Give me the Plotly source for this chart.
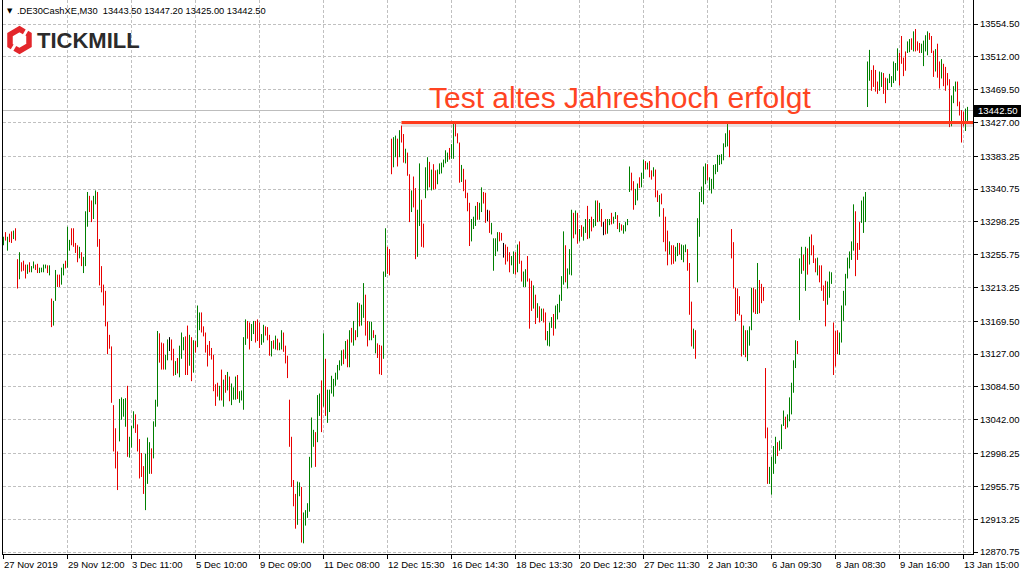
import plotly.graph_objects as go

# ---------------- data ----------------
high = [
13279, 13285, 13279, 13283, 13286, 13287, 13290, 13250, 13259, 13246,
13248, 13243, 13243, 13246, 13241, 13247, 13243, 13244, 13239, 13239,
13243, 13243, 13242, 13242, 13199, 13196, 13236, 13230, 13230, 13239,
13244, 13248, 13292, 13275, 13290, 13290, 13271, 13268, 13266, 13259,
13253, 13312, 13337, 13332, 13326, 13332, 13339, 13337, 13276, 13241,
13217, 13209, 13169, 13152, 13137, 13061, 13031, 13001, 13069, 13071,
13069, 13070, 13086, 13020, 13034, 13053, 13049, 13036, 13017, 12999,
12982, 12998, 13019, 13013, 13005, 13040, 13068, 13157, 13154, 13142,
13141, 13126, 13146, 13149, 13146, 13134, 13118, 13122, 13138, 13155,
13149, 13150, 13164, 13152, 13149, 13145, 13144, 13190, 13181, 13181,
13163, 13155, 13139, 13144, 13135, 13126, 13088, 13090, 13086, 13107,
13094, 13100, 13104, 13098, 13089, 13084, 13098, 13100, 13079, 13080,
13149, 13172, 13170, 13168, 13166, 13170, 13170, 13172, 13168, 13153,
13165, 13163, 13162, 13152, 13144, 13145, 13151, 13147, 13142, 13158,
13155, 13138, 13125, 13068, 13020, 12964, 12946, 12962, 12961, 12955,
12922, 12925, 12934, 12994, 13045, 13029, 13026, 13074, 13076, 13093,
13154, 13121, 13081, 13081, 13099, 13095, 13103, 13113, 13119, 13132,
13133, 13144, 13146, 13158, 13161, 13170, 13158, 13194, 13193, 13191,
13219, 13204, 13170, 13169, 13169, 13158, 13152, 13141, 13139, 13138,
13234, 13290, 13266, 13263, 13406, 13408, 13410, 13406, 13417, 13423,
13412, 13393, 13388, 13360, 13339, 13357, 13342, 13314, 13374, 13327,
13296, 13369, 13382, 13376, 13366, 13373, 13365, 13366, 13374, 13375,
13379, 13391, 13388, 13394, 13399, 13426, 13425, 13413, 13401, 13372,
13367, 13353, 13336, 13323, 13302, 13305, 13319, 13324, 13323, 13343,
13337, 13336, 13314, 13313, 13297, 13277, 13277, 13285, 13285, 13284,
13271, 13269, 13266, 13259, 13254, 13260, 13259, 13269, 13273, 13248,
13234, 13237, 13254, 13225, 13222, 13216, 13204, 13193, 13189, 13186,
13186, 13181, 13157, 13168, 13175, 13179, 13190, 13192, 13204, 13228,
13286, 13268, 13238, 13263, 13314, 13310, 13313, 13310, 13289, 13294,
13292, 13302, 13319, 13302, 13305, 13302, 13326, 13326, 13323, 13315,
13298, 13302, 13302, 13302, 13310, 13305, 13311, 13307, 13297, 13295,
13294, 13298, 13302, 13370, 13362, 13351, 13341, 13348, 13356, 13362,
13379, 13377, 13375, 13377, 13365, 13369, 13366, 13339, 13333, 13335,
13316, 13305, 13287, 13273, 13268, 13268, 13266, 13271, 13271, 13269,
13268, 13269, 13263, 13245, 13195, 13160, 13158, 13303, 13337, 13344,
13370, 13374, 13373, 13356, 13354, 13372, 13373, 13385, 13385, 13386,
13400, 13413, 13425, 13417, 13289, 13272, 13213, 13212, 13202, 13178,
13164, 13158, 13158, 13163, 13213, 13213, 13211, 13245, 13223, 13218,
13214, 13109, 13032, 12981, 12994, 13008, 13020, 13013, 13015, 13036,
13054, 13046, 13049, 13071, 13090, 13119, 13145, 13144, 13251, 13266,
13256, 13266, 13264, 13279, 13282, 13268, 13251, 13252, 13242, 13242,
13216, 13222, 13221, 13234, 13233, 13168, 13157, 13158, 13155, 13190,
13209, 13231, 13252, 13260, 13273, 13321, 13312, 13271, 13298, 13326,
13331, 13337, 13506, 13521, 13495, 13501, 13495, 13480, 13493, 13492,
13491, 13485, 13484, 13490, 13487, 13506, 13504, 13523, 13517, 13539,
13511, 13519, 13532, 13535, 13536, 13545, 13548, 13532, 13530, 13529,
13533, 13540, 13545, 13543, 13539, 13520, 13522, 13529, 13506, 13509,
13503, 13499, 13491, 13483, 13462, 13474, 13480, 13480, 13454, 13443,
13441, 13445, 13447.2,
]

low = [
13268, 13274, 13261, 13272, 13271, 13276, 13274, 13212, 13224, 13234,
13235, 13225, 13231, 13233, 13233, 13238, 13236, 13232, 13232, 13233,
13233, 13238, 13232, 13229, 13162, 13164, 13196, 13214, 13214, 13217,
13229, 13238, 13239, 13261, 13268, 13266, 13258, 13246, 13251, 13241,
13232, 13241, 13292, 13311, 13298, 13302, 13321, 13266, 13216, 13207,
13190, 13163, 13127, 13134, 13064, 13001, 12979, 12951, 13014, 13042,
13046, 13033, 12994, 12993, 13006, 13031, 13025, 13001, 12966, 12968,
12946, 12925, 12959, 12972, 12972, 12992, 13033, 13059, 13116, 13107,
13107, 13107, 13119, 13131, 13119, 13099, 13100, 13102, 13097, 13121,
13132, 13100, 13100, 13112, 13092, 13103, 13129, 13136, 13158, 13155,
13150, 13129, 13111, 13125, 13120, 13079, 13060, 13072, 13067, 13067,
13059, 13077, 13080, 13066, 13061, 13068, 13068, 13069, 13064, 13067,
13055, 13139, 13147, 13133, 13144, 13153, 13142, 13144, 13135, 13139,
13142, 13151, 13145, 13125, 13124, 13134, 13133, 13132, 13132, 13133,
13130, 13115, 13096, 13007, 12955, 12930, 12901, 12906, 12943, 12883,
12882, 12905, 12915, 12923, 12980, 13007, 12981, 13013, 13047, 13026,
13059, 13047, 13038, 13052, 13076, 13072, 13086, 13094, 13106, 13112,
13114, 13121, 13110, 13110, 13142, 13138, 13145, 13149, 13163, 13164,
13174, 13151, 13137, 13145, 13145, 13148, 13128, 13122, 13101, 13100,
13121, 13227, 13231, 13229, 13360, 13369, 13382, 13370, 13382, 13401,
13375, 13374, 13358, 13298, 13311, 13317, 13250, 13253, 13293, 13266,
13265, 13329, 13339, 13343, 13339, 13340, 13341, 13347, 13360, 13361,
13369, 13374, 13376, 13379, 13380, 13380, 13409, 13400, 13349, 13350,
13338, 13329, 13312, 13267, 13273, 13289, 13293, 13301, 13301, 13311,
13322, 13297, 13299, 13284, 13282, 13235, 13254, 13260, 13273, 13274,
13252, 13243, 13247, 13233, 13242, 13231, 13230, 13233, 13244, 13221,
13214, 13214, 13221, 13160, 13183, 13186, 13166, 13174, 13168, 13170,
13168, 13145, 13138, 13137, 13161, 13151, 13160, 13172, 13181, 13196,
13217, 13220, 13212, 13230, 13229, 13277, 13282, 13270, 13273, 13279,
13274, 13284, 13276, 13277, 13286, 13291, 13293, 13298, 13299, 13292,
13281, 13282, 13283, 13294, 13295, 13296, 13302, 13289, 13285, 13287,
13283, 13286, 13294, 13337, 13339, 13314, 13320, 13326, 13342, 13343,
13354, 13366, 13366, 13356, 13353, 13357, 13330, 13324, 13305, 13321,
13272, 13260, 13242, 13256, 13243, 13244, 13247, 13254, 13256, 13249,
13246, 13259, 13235, 13178, 13137, 13134, 13121, 13220, 13279, 13324,
13321, 13347, 13352, 13339, 13335, 13341, 13360, 13363, 13372, 13373,
13378, 13395, 13396, 13382, 13251, 13212, 13170, 13179, 13177, 13124,
13126, 13123, 13118, 13138, 13158, 13181, 13179, 13179, 13180, 13193,
13196, 13018, 12959, 12959, 12945, 12972, 12985, 12995, 13002, 13004,
13034, 13030, 13032, 13040, 13049, 13077, 13109, 13127, 13171, 13231,
13235, 13209, 13230, 13243, 13255, 13245, 13233, 13229, 13220, 13209,
13196, 13163, 13191, 13200, 13218, 13100, 13111, 13127, 13126, 13142,
13170, 13190, 13225, 13238, 13249, 13261, 13228, 13249, 13262, 13297,
13284, 13298, 13447, 13481, 13468, 13473, 13467, 13464, 13468, 13473,
13464, 13452, 13469, 13478, 13473, 13478, 13481, 13494, 13475, 13503,
13487, 13494, 13517, 13518, 13521, 13519, 13519, 13520, 13517, 13517,
13500, 13519, 13514, 13534, 13517, 13486, 13493, 13485, 13471, 13484,
13474, 13468, 13475, 13421, 13422, 13452, 13467, 13448, 13436, 13401,
13422, 13416, 13425.0,
]

# bar colour: G = up (green), R = down (red), K = unchanged (black)
direction = (
    "GRGRRGRRGR" "RRGRGGRRGG" "GGRGRGGRRG" "GRGGRRRRGR" "GGGRRGGRRR"
    "RRRRRRRRGG" "GGRGGGRRRR" "RGGGRGGGRR" "RGGKRRGRGG" "GRRGRGRGGR"
    "RRRRRRRRGR" "GRGRGGGRGG" "GGRRGGRRRG" "GRRRGRGRGG" "RRRRRRRGGR"
    "GGGGGGRGGR" "GRGGGGGGGG" "RGRGRGRGRG" "GRRGGRGRRR" "GGRRRGGRGR"
    "RGRRGRRGGR" "RGGRGRRGGG" "GGGRGGRRRG" "RRRRGGGRGG" "RRKRGGGGRR"
    "KRRRGGRGRR" "GGRRRGRGRG" "RRGGGRGGGG" "GRGGGRGRGR" "GGRGRGGRGR"
    "KRGGRGGRGR" "GGGGRRGGRG" "GRGRRGRRGR" "RRRGRRGGRG" "GGRRRGRGGG"
    "GGRGGGGGGG" "GGGRRRRRRR" "GRGGGRRGRR" "RRRGGGGRGG" "GRGGGGGRGG"
    "RGRGRRRGRR" "RRGGGRRRGG" "GGGGGGRRRG" "GGGGRRRRGG" "RRGGGGGGRR"
    "RRGGRGRRRG" "GGGRRRGRRG" "RRRRGGGRRR" "RGG"
)

bars = list(range(1, len(high) + 1))

# time-axis labels (every 32 bars)
time_label_bars = [1, 33, 65, 97, 129, 161, 193, 225, 257, 289, 321, 353, 385, 417, 449, 481]
time_labels = ["27 Nov 2019", "29 Nov 12:00", "3 Dec 11:00", "5 Dec 10:00", "9 Dec 09:00",
               "11 Dec 08:00", "12 Dec 15:30", "16 Dec 14:30", "18 Dec 13:30", "20 Dec 12:30",
               "27 Dec 11:30", "2 Jan 10:30", "6 Jan 09:30", "8 Jan 08:30", "9 Jan 16:00",
               "13 Jan 15:00"]

price_ticks = [13554.50, 13512.00, 13469.50, 13427.00, 13383.25, 13340.75, 13298.25, 13255.75,
               13213.25, 13169.50, 13127.00, 13084.50, 13042.00, 12998.25, 12955.75, 12913.25,
               12870.75]

last_bar = {"open": 13443.50, "high": 13447.20, "low": 13425.00, "close": 13442.50}
symbol = ".DE30CashXE,M30"
old_year_high = 13427.0
line_start_bar = 200
note_text = "Test altes Jahreshoch erfolgt"

# ---------------- figure ----------------
FONT = "Liberation Sans, Arial, sans-serif"
W, H = 1024, 576
ML, MR, MT, MB = 3, 51, 0, 22
PW, PH = W - ML - MR, H - MT - MB

def px_x(px):
    return (px - ML) / PW

def px_y(py):
    return (H - MB - py) / PH

colors = {"G": "#007F00", "R": "#E80000", "K": "#000000"}

fig = go.Figure()
for key in ["G", "R", "K"]:
    xs, ys = [], []
    for i, d in enumerate(direction):
        if d != key:
            continue
        xs += [bars[i], bars[i], None]
        ys += [low[i], high[i], None]
    fig.add_trace(go.Scatter(
        x=xs, y=ys, mode="lines", connectgaps=False,
        line=dict(color=colors[key], width=1),
        hoverinfo="skip", showlegend=False,
    ))

grid = dict(showgrid=True, gridcolor="#C0C0C0", gridwidth=1, griddash="3px,2px")

fig.update_layout(
    width=W, height=H, autosize=False,
    margin=dict(l=ML, r=MR, t=MT, b=MB, pad=0),
    paper_bgcolor="white", plot_bgcolor="white",
    font=dict(family=FONT, size=10, color="black"),
    showlegend=False, hovermode=False,
    xaxis=dict(
        range=[0.75, 0.75 + PW / 2.0], tickmode="array", tickvals=time_label_bars,
        showticklabels=False, ticks="outside", ticklen=4, tickcolor="black",
        showline=True, linecolor="black", linewidth=1, zeroline=False,
        fixedrange=True, **grid,
    ),
    yaxis=dict(
        side="right", range=[12868.2, 13585.6], tickmode="array",
        tickvals=price_ticks, ticktext=[f"{v:.2f}" for v in price_ticks],
        ticks="outside", ticklen=4, tickcolor="black",
        tickfont=dict(family=FONT, size=9.5, color="black"),
        showline=True, mirror=True, linecolor="black", linewidth=1, zeroline=False,
        fixedrange=True, automargin=False, **grid,
    ),
)

shapes = []
# bid line
shapes.append(dict(type="line", xref="paper", x0=0, x1=1, yref="y",
                   y0=last_bar["close"], y1=last_bar["close"],
                   line=dict(color="#BDBDBD", width=1), layer="below"))
# red line glow + line
shapes.append(dict(type="line", xref="x", x0=line_start_bar, x1=490, yref="y",
                   y0=old_year_high - 2.0, y1=old_year_high - 2.0,
                   line=dict(color="rgba(150,120,120,0.22)", width=6)))
shapes.append(dict(type="line", xref="x", x0=line_start_bar, x1=490, yref="y",
                   y0=old_year_high, y1=old_year_high,
                   line=dict(color="#FF3A1C", width=3)))
# price box on the axis
shapes.append(dict(type="rect", xref="paper", yref="paper",
                   x0=px_x(974), x1=px_x(1021), y0=px_y(117), y1=px_y(105),
                   fillcolor="black", line=dict(width=0)))
# logo hexagon (two strokes)
hexA = [(24.3, 31.8), (19.5, 29.0), (10.0, 34.5), (10.0, 45.5), (12.2, 46.8)]
hexB = [(14.8, 48.3), (19.5, 51.0), (29.0, 45.5), (29.0, 34.5), (26.8, 33.2)]
for pts in (hexA, hexB):
    path = "M " + " L ".join(f"{px_x(a):.5f},{px_y(b):.5f}" for a, b in pts)
    shapes.append(dict(type="path", xref="paper", yref="paper", path=path,
                       line=dict(color="#E3262B", width=5.5)))
fig.update_layout(shapes=shapes)

ann = []
for b, t in zip(time_label_bars, time_labels):
    ann.append(dict(x=b, xref="x", y=0, yref="paper", text=t, showarrow=False,
                    xanchor="left", yanchor="top", xshift=-2, yshift=-3,
                    font=dict(family=FONT, size=9.5, color="black")))
ann.append(dict(x=px_x(976), xref="paper", y=px_y(111), yref="paper",
                text=f"{last_bar['close']:.2f}", showarrow=False,
                xanchor="left", yanchor="middle",
                font=dict(family=FONT, size=9.5, color="white")))
ann.append(dict(x=(427 - 3.5) / 2 + 1, xref="x", y=13459.0, yref="y",
                text=note_text, showarrow=False, xanchor="left", yanchor="middle",
                font=dict(family=FONT, size=30, color="#FF4422")))
ann.append(dict(x=px_x(5), xref="paper", y=px_y(10.5), yref="paper", text="▼",
                showarrow=False, xanchor="left", yanchor="middle",
                font=dict(family="DejaVu Sans", size=7, color="black")))
header = f"{symbol}  {last_bar['open']:.2f} {last_bar['high']:.2f} {last_bar['low']:.2f} {last_bar['close']:.2f}"
ann.append(dict(x=px_x(15), xref="paper", y=px_y(10.5), yref="paper", text=header,
                showarrow=False, xanchor="left", yanchor="middle",
                font=dict(family=FONT, size=9.3, color="black")))
ann.append(dict(x=px_x(35), xref="paper", y=px_y(40.5), yref="paper", text="<b>TICKMILL</b>",
                showarrow=False, xanchor="left", yanchor="middle",
                font=dict(family=FONT, size=22, color="#2B2B2B")))
fig.update_layout(annotations=ann)

fig.write_html(
    "out.html",
    config={"displayModeBar": False},
    post_script="document.body.style.margin='0';document.body.style.overflow='hidden';",
)
